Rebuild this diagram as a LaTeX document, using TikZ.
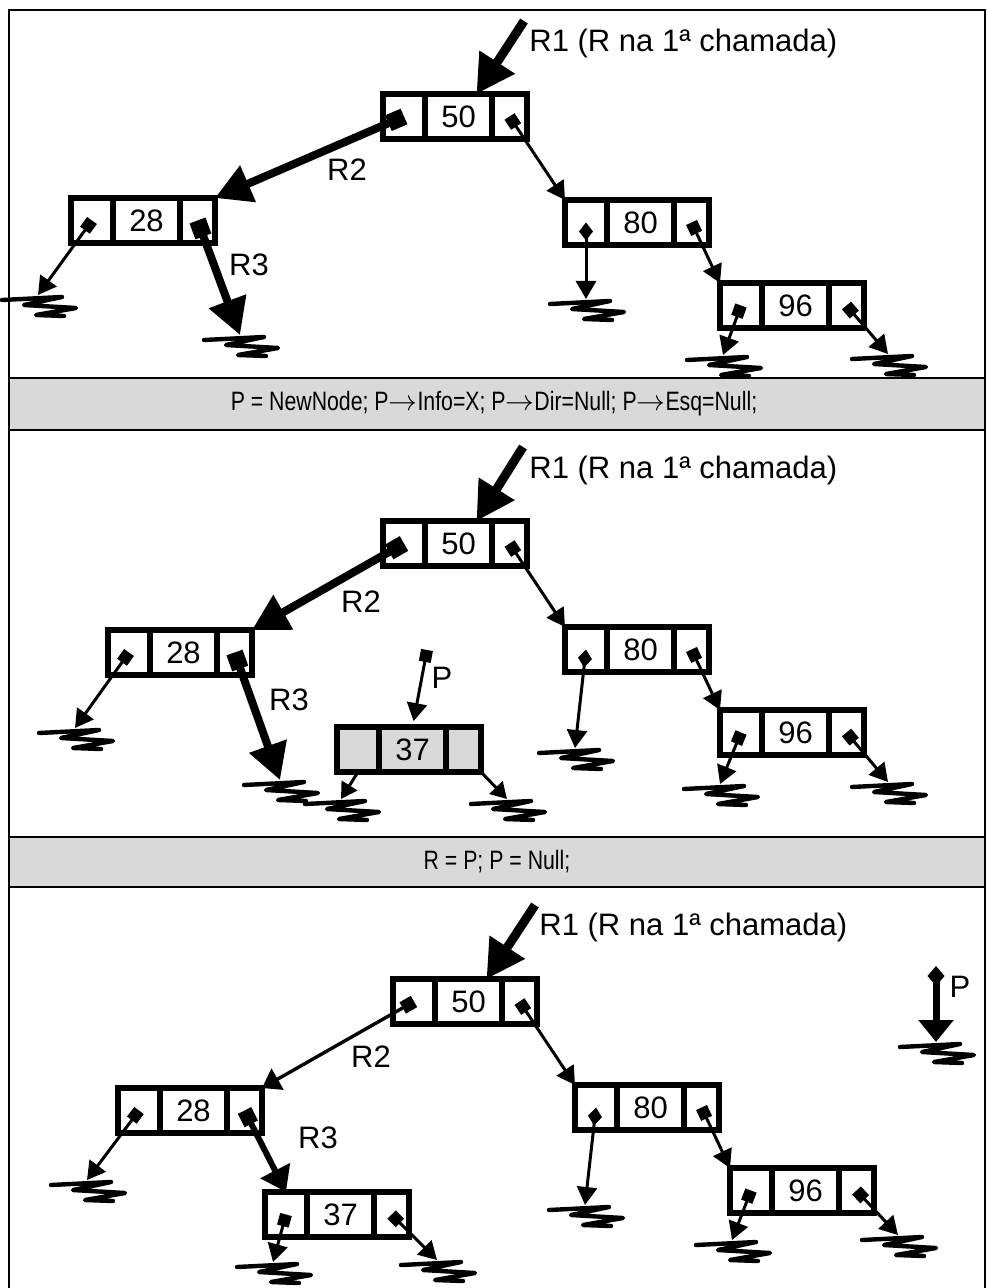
\documentclass[tikz,border=0pt]{standalone}
\usepackage{fontspec}
\setmainfont{Liberation Sans}
\newfontfamily\narrowsans[FakeStretch=0.8]{Liberation Sans}
\usepackage{tikz}
\usetikzlibrary{arrows.meta,positioning,calc}
\definecolor{cbar}{RGB}{217,217,217}

\newcommand{\lblfont}{\fontsize{15.5pt}{18pt}\selectfont}
\newcommand{\barfont}{\narrowsans\fontsize{13.3pt}{16pt}\selectfont}
\newcommand{\barto}{$\rightarrow$}

\tikzset{
  cell/.style={draw, line width=3pt, minimum height=22.5pt, inner sep=0pt, outer sep=0pt, font=\lblfont},
  cellmid/.style={cell, minimum width=33.5pt},
  cellleft/.style={cell, minimum width=21pt},
  cellright/.style={cell, minimum width=17.5pt},
  lbl/.style={inner sep=0pt, font=\lblfont},
  ptr/.style={line width=1.5pt, {Square[length=6pt,width=6pt]}-{Triangle[length=9pt,width=10pt]}},
  dptr/.style={line width=1.5pt, {Diamond[length=9pt,width=7pt]}-{Triangle[length=9pt,width=10pt]}},
  bigptr/.style={line width=4pt, {Square[length=8.5pt,width=8.5pt]}-{Triangle[length=18pt,width=19pt]}},
  midptr/.style={line width=3pt, {Square[length=7.5pt,width=7.5pt]}-{Triangle[length=12pt,width=16pt]}},
  rootptr/.style={line width=4.5pt, -{Triangle[length=19pt,width=20pt]}},
  nilptr/.style={line width=1.5pt, -{Triangle[length=8pt,width=9pt]}},
  frame/.style={line width=1pt},
  nullgnd/.pic={
    \draw[line width=2.2pt, line join=round, line cap=round]
      (-36,5) -- (24,2) -- (-14,10) -- (38,13) -- (-2,20) -- (26,21);
  }
}

% list node: left pointer | value | right pointer
\newcommand{\listnode}[4][white]{%
  \node[cellmid, fill=#1] (#2) at (#3) {#4};
  \node[cellleft, fill=#1, left=0pt of #2] (#2-l) {};
  \node[cellright, fill=#1, right=0pt of #2] (#2-r) {};}

\begin{document}
\begin{tikzpicture}[x=0.5pt, y=-0.5pt]
  \useasboundingbox (0,0) rectangle (987,1288);
  % frame and the two statement bars
  \draw[frame] (9,1288) -- (9,10) -- (985,10) -- (985,1288);
  \draw[frame, fill=cbar] (9,378) rectangle (985,430);
  \draw[frame, fill=cbar] (9,837) rectangle (985,887);
  \node[font=\barfont, inner sep=0pt] (bar1) at (494,404) {P = NewNode; P\barto Info=X; P\barto Dir=Null; P\barto Esq=Null;};
  \node[font=\barfont, inner sep=0pt] (bar2) at (497,862) {R = P; P = Null;};

  % ---- panel 1: the tree
  \listnode{a50}{458.5,116.5}{50}
  \listnode{a28}{146.5,220.5}{28}
  \listnode{a80}{640.5,222.5}{80}
  \listnode{a96}{795.5,305.5}{96}
  \coordinate (a-r1) at (524,21);
  \coordinate (a-g1) at (38,295);
  \coordinate (a-g2) at (240,335);
  \coordinate (a-g3) at (586,299);
  \coordinate (a-g4) at (723,355);
  \coordinate (a-g5) at (888,354);
  \draw[rootptr] (a-r1) -- ([xshift=9pt]a50.north);
  \node[lbl, anchor=west] (a-r1t) at (529,43) {R1 (R na 1ª chamada)};
  \draw[bigptr] (a50-l.center) -- (a28-r.north east);
  \node[lbl] (a-r2) at (347,170) {R2};
  \draw[bigptr] (a28-r.center) -- (a-g2);
  \node[lbl] (a-r3) at (249,265) {R3};
  \draw[ptr] (a28-l.center) -- (a-g1);
  \draw[ptr] (a50-r.center) -- (a80-l.north west);
  \draw[dptr] (a80-l.center) -- (a-g3);
  \draw[ptr] (a80-r.center) -- (a96-l.north west);
  \draw[ptr] (a96-l.center) -- (a-g4);
  \draw[ptr] (a96-r.center) -- (a-g5);

  % ---- panel 2: new node P
  \listnode{b50}{458.5,543.5}{50}
  \listnode{b28}{183.5,652.5}{28}
  \listnode{b80}{640.5,649.5}{80}
  \listnode{b96}{795.5,732.5}{96}
  \listnode[cbar]{b37}{412.5,749.5}{37}
  \coordinate (b-r1) at (523,447);
  \coordinate (b-p) at (427,650);
  \coordinate (b-g1) at (75,728);
  \coordinate (b-g2) at (280,780);
  \coordinate (b-g3) at (341,799);
  \coordinate (b-g4) at (507,799);
  \coordinate (b-g5) at (575,748);
  \coordinate (b-g6) at (720,784);
  \coordinate (b-g7) at (888,782);
  \draw[rootptr] (b-r1) -- ([xshift=9pt]b50.north);
  \node[lbl, anchor=west] (b-r1t) at (529,470) {R1 (R na 1ª chamada)};
  \draw[bigptr] (b50-l.center) -- (b28-r.north east);
  \node[lbl] (b-r2) at (361,602) {R2};
  \draw[bigptr] (b28-r.center) -- (b-g2);
  \node[lbl] (b-r3) at (289,700) {R3};
  \draw[ptr] (b28-l.center) -- (b-g1);
  \draw[ptr, shorten >=3pt] (b-p) -- (b37.north);
  \node[lbl] (b-pt) at (442,678) {P};
  \draw[nilptr] (b37-l.south) -- (b-g3);
  \draw[nilptr] (b37-r.south east) -- (b-g4);
  \draw[ptr] (b50-r.center) -- (b80-l.north west);
  \draw[dptr] (b80-l.center) -- (b-g5);
  \draw[ptr] (b80-r.center) -- (b96-l.north west);
  \draw[ptr] (b96-l.center) -- (b-g6);
  \draw[ptr] (b96-r.center) -- (b-g7);

  % ---- panel 3: R = P
  \listnode{c50}{468.5,1001.5}{50}
  \listnode{c28}{193.5,1110.5}{28}
  \listnode{c80}{650.5,1107.5}{80}
  \listnode{c96}{805.5,1190.5}{96}
  \listnode{c37}{340.5,1214.5}{37}
  \coordinate (c-r1) at (535,905);
  \coordinate (c-p) at (936,966);
  \coordinate (c-g1) at (87,1180);
  \coordinate (c-g2) at (273,1262);
  \coordinate (c-g3) at (437,1260);
  \coordinate (c-g4) at (585,1205);
  \coordinate (c-g5) at (732,1240);
  \coordinate (c-g6) at (898,1235);
  \coordinate (c-g7) at (936,1042);
  \draw[rootptr] (c-r1) -- ([xshift=9pt]c50.north);
  \node[lbl, anchor=west] (c-r1t) at (539,927) {R1 (R na 1ª chamada)};
  \draw[line width=1.7pt, {Square[length=6.5pt,width=6.5pt]}-{Triangle[length=9pt,width=12pt]}] (c50-l.center) -- (c28-r.north east);
  \node[lbl] (c-r2) at (371,1057) {R2};
  \draw[midptr] (c28-r.center) -- (c37-l.north);
  \node[lbl] (c-r3) at (318,1138) {R3};
  \draw[ptr] (c28-l.center) -- (c-g1);
  \draw[ptr] (c37-l.center) -- (c-g2);
  \draw[ptr] (c37-r.center) -- (c-g3);
  \draw[ptr] (c50-r.center) -- (c80-l.north west);
  \draw[dptr] (c80-l.center) -- (c-g4);
  \draw[ptr] (c80-r.center) -- (c96-l.north west);
  \draw[ptr] (c96-l.center) -- (c-g5);
  \draw[ptr] (c96-r.center) -- (c-g6);
  \draw[line width=3.5pt, {Diamond[length=10pt,width=8.5pt]}-{Triangle[length=11pt,width=17pt]}] (c-p) -- (c-g7);
  \node[lbl] (c-pt) at (960,987) {P};

  % null grounds
  \foreach \g in {a-g1,a-g2,a-g3,a-g4,a-g5,b-g1,b-g2,b-g3,b-g4,b-g5,b-g6,b-g7,
                  c-g1,c-g2,c-g3,c-g4,c-g5,c-g6,c-g7}
    \pic at (\g) {nullgnd};
\end{tikzpicture}
\end{document}
